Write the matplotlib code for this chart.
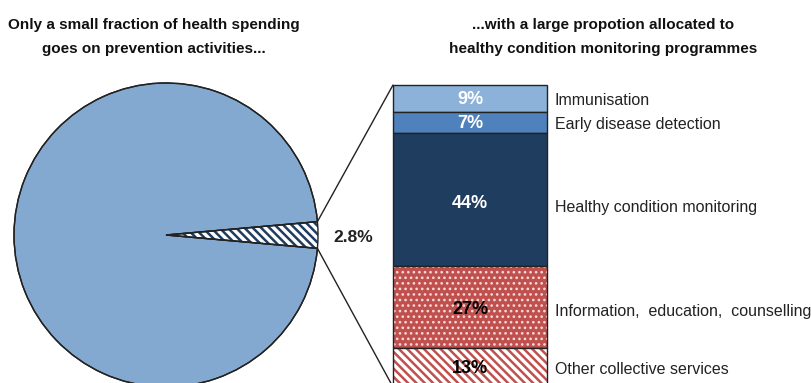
import numpy as np
import matplotlib
matplotlib.use("Agg")
import matplotlib.pyplot as plt
from matplotlib.patches import ConnectionPatch

plt.rcParams["font.family"] = ["Liberation Sans", "DejaVu Sans"]
plt.rcParams["hatch.linewidth"] = 1.8

# share of health spending
pie_labels = ["Prevention", "Other health spending"]
pie_shares = [2.8, 97.2]

# breakdown of prevention spending (top to bottom)
categories = [
    "Immunisation",
    "Early disease detection",
    "Healthy condition monitoring",
    "Information,  education,  counselling",
    "Other collective services",
]
shares = [9, 7, 44, 27, 13]

left_title = ["Only a small fraction of health spending",
              "goes on prevention activities..."]
right_title = ["...with a large propotion allocated to",
               "healthy condition monitoring programmes"]

pie_blue = "#84a9d1"
navy = "#1f3d5e"
red = "#c0504d"
seg_colors = ["#8cb2da", "#4f81bd", navy, red, "white"]
seg_text = ["white", "white", "white", "black", "black"]

W, H = 812, 383
fig = plt.figure(figsize=(W / 100, H / 100), dpi=100)

# main axes in pixel units, y pointing down
ax = fig.add_axes([0, 0, 1, 1])
cx, cy, r = 166, 235, 152
start = -pie_shares[0] * 3.6 / 2
wedges, _ = ax.pie(pie_shares, colors=[navy, pie_blue], startangle=start,
                   center=(cx, cy), radius=r,
                   wedgeprops=dict(edgecolor="#222222", linewidth=1.0))
# striped prevention slice
wedges[0].set_facecolor("white")
wedges[0].set_edgecolor(navy)
wedges[0].set_hatch("\\\\\\\\")
wedges[0].set_linewidth(0)
ax.pie(pie_shares, colors=["none", "none"], startangle=start,
       center=(cx, cy), radius=r,
       wedgeprops=dict(edgecolor="#222222", linewidth=1.0, fill=False))
ax.set_xlim(0, W)
ax.set_ylim(H, 0)
ax.axis("off")

ax.text(333, 237, f"{pie_shares[0]}%", fontsize=12.5, fontweight="bold",
        color="#222222", ha="left", va="center")

title_font = dict(fontsize=11, fontweight="bold", ha="center",
                  va="baseline", color="#111111")
for line, yb in zip(left_title, [29, 53]):
    ax.text(154, yb, line, **title_font)
for line, yb in zip(right_title, [29, 53]):
    ax.text(603, yb, line, **title_font)

# stacked bar for the breakdown
bx0, bx1, by0, by1 = 393, 547, 85, 387
bax = fig.add_axes([bx0 / W, (H - by1) / H, (bx1 - bx0) / W, (by1 - by0) / H])
bax.set_xlim(0, 1)
bax.set_ylim(100, 0)
bax.axis("off")
bottoms = np.concatenate([[0], np.cumsum(shares)[:-1]])
hatches = [None, None, None, "...", "\\\\\\\\"]
hatch_cols = [None, None, None, "#f6dad9", red]
hatch_lw = [None, None, None, 1.1, 1.8]
for val, b, col, hat, hcol, hlw in zip(shares, bottoms, seg_colors,
                                       hatches, hatch_cols, hatch_lw):
    if hat:
        with plt.rc_context({"hatch.linewidth": hlw}):
            bax.bar(0.5, val, bottom=b, width=1, color=col, edgecolor=hcol,
                    hatch=hat, linewidth=0)
    else:
        bax.bar(0.5, val, bottom=b, width=1, color=col, linewidth=0)
    bax.bar(0.5, val, bottom=b, width=1, fill=False, edgecolor="#222222",
            linewidth=1.0, clip_on=False)

for val, b, tc, name in zip(shares, bottoms, seg_text, categories):
    bax.text(0.5, b + val * 0.53, f"{val}%", fontsize=13, fontweight="bold",
             color=tc, ha="center", va="center")
    bax.text(1.05, b + val * 0.56, name, fontsize=11.5, color="#222222",
             ha="left", va="center", clip_on=False)

# connector lines from the slice edge to the bar corners
theta = np.deg2rad(pie_shares[0] * 3.6 / 2)
for sign, yb in [(-1, 0), (1, 100)]:
    p = (cx + r * np.cos(theta), cy + sign * r * np.sin(theta))
    con = ConnectionPatch(xyA=p, coordsA=ax.transData, xyB=(0, yb),
                          coordsB=bax.transData, color="#222222", linewidth=1.0)
    fig.add_artist(con)

fig.savefig("out.png", dpi=100)
